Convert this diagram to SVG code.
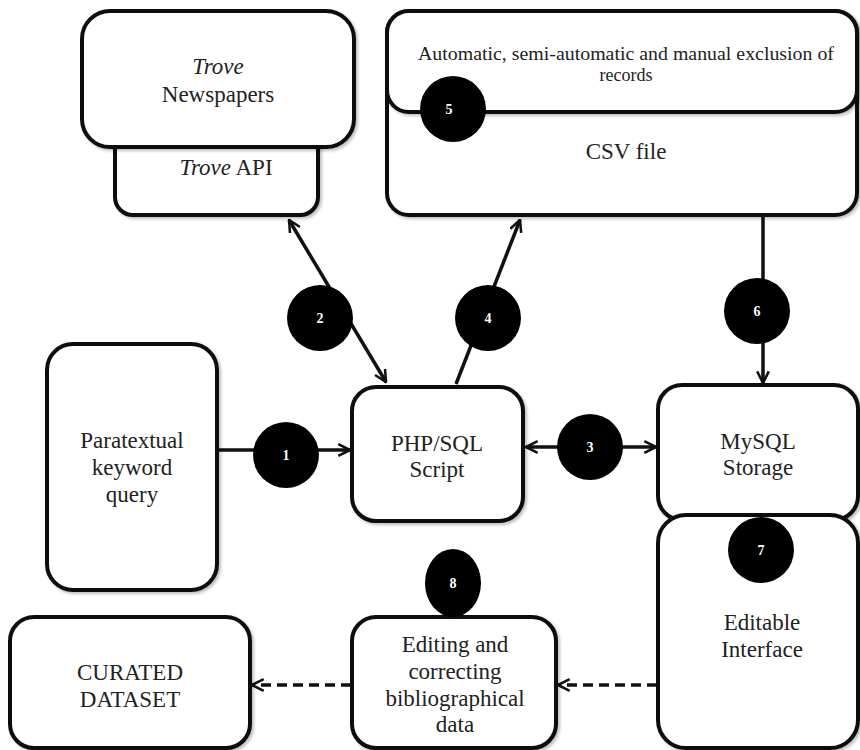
<svg xmlns="http://www.w3.org/2000/svg" width="860" height="750" viewBox="0 0 860 750">
<defs>
<marker id="ah" viewBox="0 0 12 12" refX="11" refY="6" markerWidth="14" markerHeight="14" markerUnits="userSpaceOnUse" orient="auto-start-reverse">
<path d="M1,1 L11,6 L1,11" fill="none" stroke="#111" stroke-width="2.2"/>
</marker>
<filter id="sh" x="-5%" y="-5%" width="115%" height="115%">
<feDropShadow dx="2" dy="2" stdDeviation="1.5" flood-color="#000" flood-opacity="0.25"/>
</filter>
</defs>
<style>
.box{fill:#fff;stroke:#111;stroke-width:4;filter:url(#sh)}
.lbl{font-family:"Liberation Serif","DejaVu Serif",serif;font-size:23px;fill:#222;text-anchor:middle}
.sm{font-size:18px}
.con{stroke:#111;stroke-width:3.5;fill:none}
.dash{stroke-dasharray:10,6}
.num{fill:#000}
.nt{font-family:"Liberation Serif","DejaVu Serif",serif;font-size:14px;font-weight:bold;fill:#fff;text-anchor:middle}
</style>
<rect width="860" height="750" fill="#fff"/>
<g id="connectors">
<line class="con" x1="289" y1="220" x2="386" y2="382" marker-start="url(#ah)" marker-end="url(#ah)"/>
<line class="con" x1="456" y1="384" x2="520" y2="220" marker-end="url(#ah)"/>
<line class="con" x1="763" y1="216" x2="763" y2="383" marker-end="url(#ah)"/>
<line class="con" x1="218" y1="450" x2="350" y2="450" marker-end="url(#ah)"/>
<line class="con" x1="526" y1="447" x2="656" y2="447" marker-start="url(#ah)" marker-end="url(#ah)"/>
<line class="con dash" x1="657" y1="685" x2="558" y2="685" marker-end="url(#ah)"/>
<line class="con dash" x1="351" y1="685" x2="252" y2="685" marker-end="url(#ah)"/>
</g>
<g id="trove-api">
<rect class="box" x="115" y="120" width="203" height="95" rx="18"/>
<text class="lbl" x="226" y="175" font-size="25"><tspan font-style="italic">Trove</tspan> API</text>
</g>
<g id="trove-newspapers">
<rect class="box" x="82" y="11" width="272" height="136" rx="28"/>
<text class="lbl" x="218" y="74" font-style="italic">Trove</text>
<text class="lbl" x="218" y="102">Newspapers</text>
</g>
<g id="csv-file">
<rect class="box" x="387" y="11" width="470" height="204" rx="22"/>
<text class="lbl" x="626" y="159" font-size="22">CSV file</text>
</g>
<g id="exclusion">
<rect class="box" x="387" y="11" width="470" height="101" rx="22"/>
<text class="lbl sm" x="626" y="60" textLength="416" lengthAdjust="spacingAndGlyphs">Automatic, semi-automatic and manual exclusion of</text>
<text class="lbl sm" x="626" y="81">records</text>
</g>
<g id="paratextual">
<rect class="box" x="47" y="344" width="170" height="246" rx="26"/>
<text class="lbl" x="132" y="448">Paratextual</text>
<text class="lbl" x="132" y="475">keyword</text>
<text class="lbl" x="132" y="502">query</text>
</g>
<g id="php-sql">
<rect class="box" x="352" y="387" width="171" height="134" rx="24"/>
<text class="lbl" x="437" y="451">PHP/SQL</text>
<text class="lbl" x="437" y="477">Script</text>
</g>
<g id="mysql">
<rect class="box" x="658" y="385" width="200" height="135" rx="24"/>
<text class="lbl" x="758" y="449">MySQL</text>
<text class="lbl" x="758" y="475">Storage</text>
</g>
<g id="editable">
<rect class="box" x="658" y="515" width="200" height="233" rx="28"/>
<text class="lbl" x="762" y="630">Editable</text>
<text class="lbl" x="762" y="657">Interface</text>
</g>
<g id="curated">
<rect class="box" x="10" y="617" width="240" height="131" rx="24"/>
<text class="lbl" x="130" y="680">CURATED</text>
<text class="lbl" x="130" y="707">DATASET</text>
</g>
<g id="editing">
<rect class="box" x="352" y="617" width="204" height="131" rx="24"/>
<text class="lbl" x="455" y="652">Editing and</text>
<text class="lbl" x="455" y="679">correcting</text>
<text class="lbl" x="455" y="706">bibliographical</text>
<text class="lbl" x="455" y="732">data</text>
</g>
<g id="step-1"><circle class="num" cx="286" cy="455" r="33"/><text class="nt" x="286" y="460">1</text></g>
<g id="step-2"><circle class="num" cx="320" cy="318" r="33"/><text class="nt" x="320" y="323">2</text></g>
<g id="step-3"><circle class="num" cx="590" cy="447" r="33"/><text class="nt" x="590" y="452">3</text></g>
<g id="step-4"><circle class="num" cx="488" cy="318" r="33"/><text class="nt" x="488" y="323">4</text></g>
<g id="step-5"><circle class="num" cx="453" cy="109" r="33"/><text class="nt" x="449" y="114">5</text></g>
<g id="step-6"><circle class="num" cx="757" cy="311" r="33"/><text class="nt" x="757" y="316">6</text></g>
<g id="step-7"><circle class="num" cx="761" cy="550" r="33"/><text class="nt" x="761" y="555">7</text></g>
<g id="step-8"><ellipse class="num" cx="453" cy="583" rx="28" ry="34"/><text class="nt" x="453" y="588">8</text></g>
</svg>
